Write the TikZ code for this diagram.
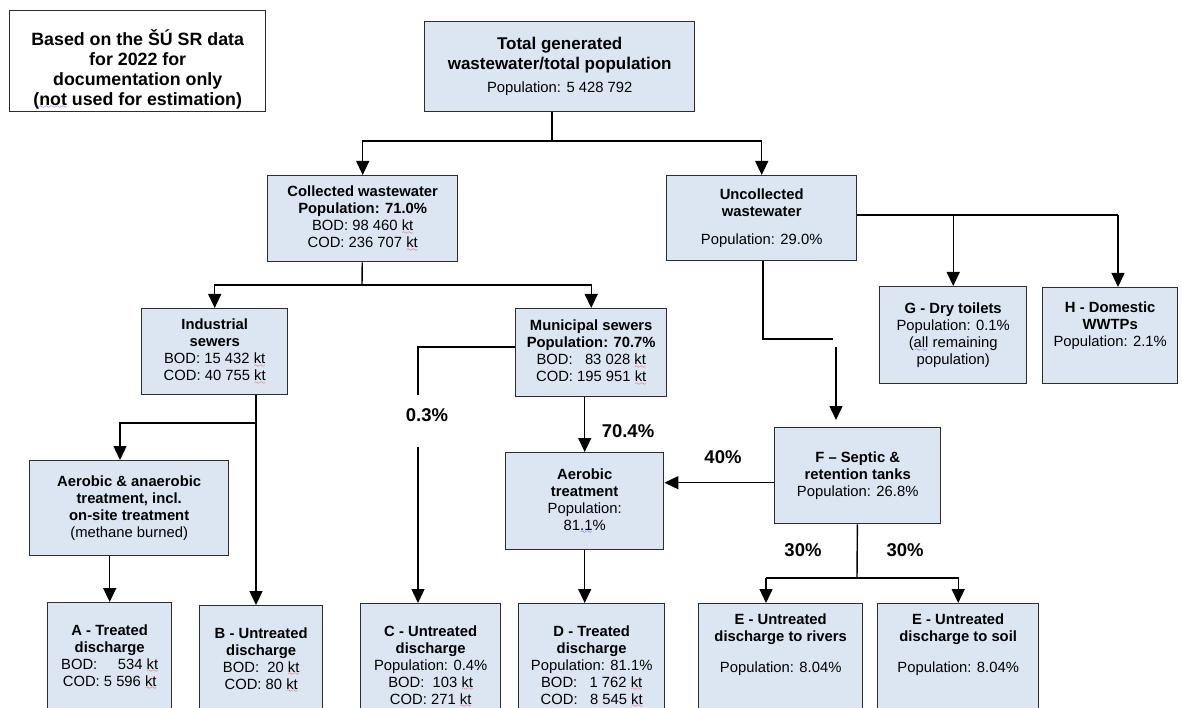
\documentclass[tikz,border=0pt]{standalone}
\usepackage{fontspec}
\setmainfont{Liberation Sans}
\usetikzlibrary{arrows.meta}

\definecolor{boxblue}{RGB}{220,230,242}
\definecolor{boxline}{RGB}{45,45,45}

% spell-check waves under words
\font\wavefont=lasy6
\newcommand\wavedword[2]{\setbox0\hbox{#2}\rlap{\color{#1}\lower3.5pt\hbox to\wd0{\xleaders\hbox{\wavefont\char58}\hfil}}\box0\relax}
\newcommand\redwave[1]{\wavedword{red}{#1}}
\newcommand\bluewave[1]{\wavedword{blue}{#1}}
\newcommand\kt{\redwave{kt}}

% box contents: width, height, text (centred) / width, height, top gap, text
\newcommand\cellc[3]{\parbox[t][#2pt][c]{#1pt}{\centering#3\par}}
\newcommand\cellt[4]{\parbox[t][#2pt][t]{#1pt}{\vspace*{#3pt}\centering#4\par}}

\begin{document}
\begin{tikzpicture}[x=1pt, y=-1pt,
  font=\fontsize{14.8}{17}\selectfont,
  main/.style = {draw=boxline, line width=1.4pt, fill=boxblue, inner sep=0pt, anchor=north west},
  link/.style = {line width=1.4pt},
  arr/.style = {-{Triangle[width=13pt,length=14pt]}},
  pct/.style = {font=\fontsize{18.5}{20}\selectfont\bfseries}]
  \path[use as bounding box, fill=white] (0,0) rectangle (1182,708);

  \node[main, fill=white] (note) at (9,10) {\cellt{256}{101}{19}{\fontsize{17.8}{19.8}\selectfont\bfseries
    Based on the ŠÚ SR data\\for 2022 for\\documentation only\\(\bluewave{not} used for estimation)}};
  \node[main] (total) at (424,21) {\cellc{270}{90}{{\fontsize{17}{20}\selectfont\bfseries
    Total generated\\wastewater/total population\par}\vspace{6pt}Population: 5 428 792}};
  \node[main] (coll) at (267,175) {\cellc{190}{86}{\textbf{Collected wastewater}\\\textbf{Population: 71.0\%}\\
    BOD: 98 460 \kt\\COD: 236 707 \kt}};
  \node[main] (unc) at (666,175) {\cellc{190}{85}{\textbf{Uncollected}\\\textbf{wastewater}\\[11pt]Population: 29.0\%}};
  \node[main] (ind) at (141,308) {\cellc{146}{86}{\textbf{Industrial}\\\textbf{sewers}\\
    BOD: 15 432 \kt\\COD: 40 755 \kt}};
  \node[main] (mun) at (515,308) {\cellc{151}{88}{\textbf{Municipal sewers}\\\textbf{Population: 70.7\%}\\
    BOD:\ \ \ 83 028 \kt\\COD: 195 951 \kt}};
  \node[main] (G) at (879,286) {\cellc{147}{97}{\textbf{G - Dry toilets}\\Population: 0.1\%\\
    (\bluewave{all} remaining\\population)}};
  \node[main] (H) at (1042,287) {\cellt{135}{96}{14}{\textbf{H - Domestic}\\\textbf{WWTPs}\\Population: 2.1\%}};
  \node[main] (aan) at (29,460) {\cellc{199}{95}{\textbf{Aerobic \& anaerobic}\\\textbf{treatment, incl.}\\
    \textbf{on-site treatment}\\(methane burned)}};
  \node[main] (aer) at (505,452) {\cellc{158}{97}{\textbf{Aerobic}\\\textbf{treatment}\\Population:\\81\bluewave{.1}\%}};
  \node[main] (F) at (774,427) {\cellc{166}{96}{\textbf{F -- Septic \&}\\\textbf{retention tanks}\\Population: 26.8\%}};

  \node[main] (A) at (47,602) {\cellt{124}{130}{22}{\textbf{A - Treated}\\\textbf{discharge}\\
    BOD:\ \ \ \ \ 534 \kt\\COD: 5 596 \kt}};
  \node[main] (B) at (199,605) {\cellt{123}{130}{22}{\textbf{B - Untreated}\\\textbf{discharge}\\
    BOD:\ \ 20 \kt\\COD: 80 \kt}};
  \node[main] (C) at (360,603) {\cellt{140}{130}{22}{\textbf{C - Untreated}\\\textbf{discharge}\\
    Population: 0.4\%\\BOD:\ \ 103 \kt\\COD: 271 \kt}};
  \node[main] (D) at (518,603) {\cellt{146}{130}{22}{\textbf{D - Treated}\\\textbf{discharge}\\
    Population: 81.1\%\\BOD:\ \ \ 1 762 \kt\\COD:\ \ \ 8 545 \kt}};
  \node[main] (E1) at (698,603) {\cellt{164}{130}{10}{\textbf{E - Untreated}\\\textbf{discharge to rivers}\\[14pt]
    Population: 8.04\%}};
  \node[main] (E2) at (877,603) {\cellt{161}{130}{10}{\textbf{E - Untreated}\\\textbf{discharge to soil}\\[14pt]
    Population: 8.04\%}};

  % junctions
  \coordinate (s1) at (552,141);
  \coordinate (s2) at (362,285);
  \coordinate (s3) at (1118,215);
  \coordinate (b1) at (763,339);
  \coordinate (b2) at (833,339);
  \coordinate (b3) at (836,347);
  \coordinate (b4) at (836,420);
  \coordinate (s4) at (256,423);
  \coordinate (s5) at (120,423);
  \coordinate (s6) at (418,347);
  \coordinate (s7) at (857,578);
  \coordinate (s8) at (766,578);
  \path ([yshift=-7pt]F.west) coordinate (f1);

  \draw[link] (total.south -| s1) -- (s1);
  \draw[link, arr] (s1) -| (coll.north);
  \draw[link, arr] (s1) -| (unc.north);
  \draw[link] (coll) -- (s2);
  \draw[link, arr] (s2) -| (ind.north);
  \draw[link, arr] (s2) -| (mun.north);
  \draw[link] (unc.east |- s3) -- (s3);
  \draw[link, arr] (unc.east |- s3) -| (G.north);
  \draw[link, arr] (s3) -- (s3 |- H.north);
  \draw[link] (unc.south -| b1) -- (b1) -- (b2);
  \draw[link, arr] (b3) -- (b4);
  \draw[link, arr] (ind.south -| s4) -- (B.north -| s4);
  \draw[link, arr] (s4) -- (s5) -- (s5 |- aan.north);
  \draw[link, arr] (aan.south -| A.north) -- (A.north);
  \draw[link, arr] (mun.west |- s6) -- (s6) -- (s6 |- C.north);
  \draw[link, arr] (mun.south -| aer.north) -- (aer.north);
  \draw[link, arr] (aer.south) -- (aer.south |- D.north);
  \draw[link, arr] (f1) -- (f1 -| aer.east);
  \draw[link] (F) -- (s7);
  \draw[link] (s8) -- (s7);
  \draw[link, arr] (s8) -- (s8 |- E1.north);
  \draw[link, arr] (s7) -| (E2.north);

  \node[pct, fill=white, inner sep=0pt, text height=26.5pt, text depth=25.5pt] (p1) at (427,421) {0.3\%};
  \node[pct] (p2) at (628,431) {70.4\%};
  \node[pct] (p3) at (723,457) {40\%};
  \node[pct] (p4) at (803,550) {30\%};
  \node[pct] (p5) at (905,550) {30\%};
\end{tikzpicture}
\end{document}
